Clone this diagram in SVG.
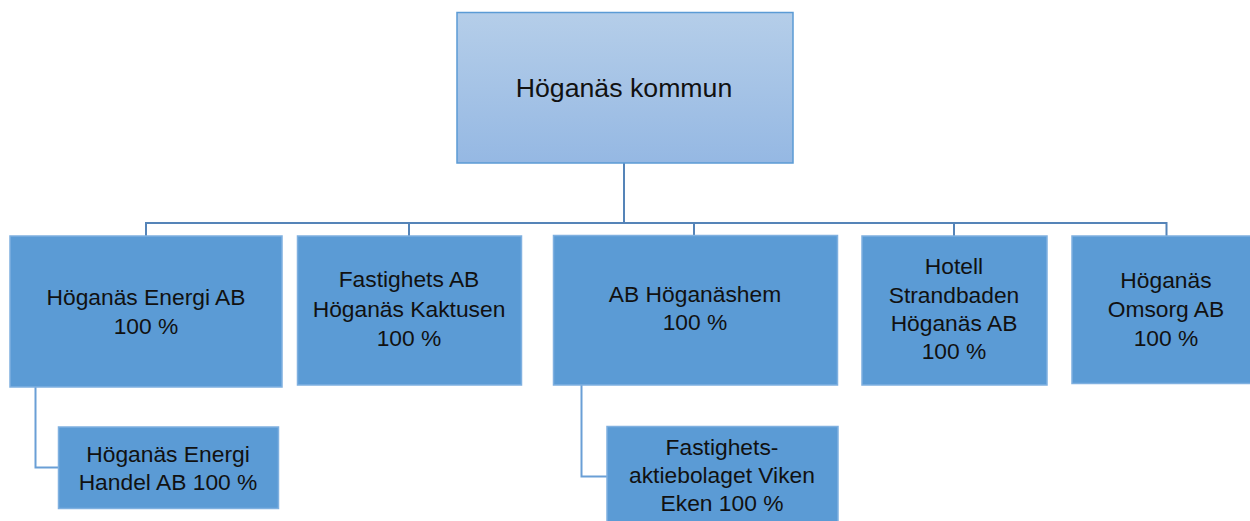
<svg xmlns="http://www.w3.org/2000/svg" width="1250" height="521" viewBox="0 0 1250 521">
<defs>
<linearGradient id="topGrad" x1="0" y1="0" x2="0" y2="1">
<stop offset="0" stop-color="#b5cee9"/>
<stop offset="1" stop-color="#95b8e3"/>
</linearGradient>
<style>
.box{fill:#5b9bd5;stroke:#7fb0e0;stroke-width:1.5}
.top{fill:url(#topGrad);stroke:#5b9bd5;stroke-width:1.5}
.t{font-family:"Liberation Sans",Arial,sans-serif;font-size:22.8px;fill:#111;text-anchor:middle}
.tt{font-family:"Liberation Sans",Arial,sans-serif;font-size:26.7px;fill:#111;text-anchor:middle}
.c{fill:none;stroke:#5584b8;stroke-width:2}
.cs{fill:none;stroke:#6a9fd6;stroke-width:2}
</style>
</defs>
<rect width="1250" height="521" fill="#ffffff"/>
<g id="connectors">
<path class="c" d="M624,163 V223 M146,236 V223 H1166.5 V236 M409,223 V236 M694,223 V236 M954,223 V236"/>
<path class="cs" d="M35.5,387 V467.5 H58"/>
<path class="cs" d="M581.5,385 V476.5 H607"/>
</g>
<g id="hoganas-kommun">
<rect class="top" x="457" y="12.5" width="336" height="150.5"/>
<text class="tt" x="624" y="96.5">Höganäs kommun</text>
</g>
<g id="energi">
<rect class="box" x="10" y="236" width="272" height="151"/>
<text class="t" x="146" y="305">Höganäs Energi AB</text>
<text class="t" x="146" y="334">100 %</text>
</g>
<g id="kaktusen">
<rect class="box" x="297.5" y="236" width="224" height="149"/>
<text class="t" x="409" y="287">Fastighets AB</text>
<text class="t" x="409" y="316.5">Höganäs Kaktusen</text>
<text class="t" x="409" y="346">100 %</text>
</g>
<g id="hoganashem">
<rect class="box" x="553.5" y="235.5" width="284" height="149.5"/>
<text class="t" x="695" y="301.5">AB Höganäshem</text>
<text class="t" x="695" y="330">100 %</text>
</g>
<g id="strandbaden">
<rect class="box" x="862" y="236" width="185" height="149"/>
<text class="t" x="954" y="274">Hotell</text>
<text class="t" x="954" y="302.5">Strandbaden</text>
<text class="t" x="954" y="330.5">Höganäs AB</text>
<text class="t" x="954" y="358.5">100 %</text>
</g>
<g id="omsorg">
<rect class="box" x="1072" y="236" width="180" height="147.5"/>
<text class="t" x="1166" y="288">Höganäs</text>
<text class="t" x="1166" y="316.5">Omsorg AB</text>
<text class="t" x="1166" y="345.5">100 %</text>
</g>
<g id="energi-handel">
<rect class="box" x="58.5" y="427" width="220" height="81.5"/>
<text class="t" x="168" y="461.5">Höganäs Energi</text>
<text class="t" x="168" y="489.5">Handel AB 100 %</text>
</g>
<g id="viken-eken">
<rect class="box" x="607" y="426.5" width="231" height="96"/>
<text class="t" x="722" y="455">Fastighets-</text>
<text class="t" x="722" y="483">aktiebolaget Viken</text>
<text class="t" x="722" y="511">Eken 100 %</text>
</g>
</svg>
